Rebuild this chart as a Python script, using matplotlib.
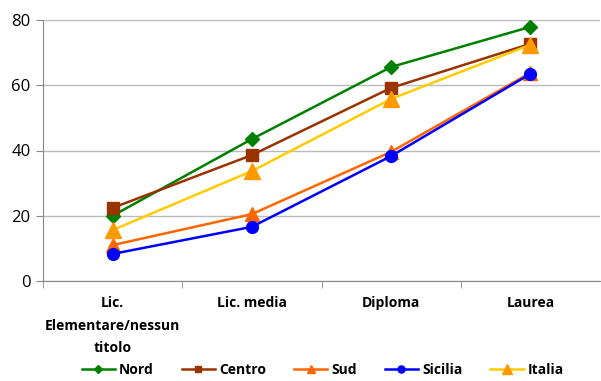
import matplotlib
matplotlib.use('Agg')
import matplotlib.pyplot as plt
import numpy as np

categorie = ['Lic.\nElementare/nessun\ntitolo', 'Lic. media', 'Diploma', 'Laurea']
nord = [20.0, 43.5, 65.6, 77.9]
centro = [22.4, 38.6, 59.2, 72.7]
sud = [11.0, 20.5, 39.6, 63.8]
sicilia = [8.3, 16.6, 38.3, 63.5]
italia = [15.6, 33.7, 55.8, 72.4]

plt.rcParams['font.family'] = ['Open Sans', 'DejaVu Sans']

fig = plt.figure(figsize=(6.01, 3.81), dpi=100)
ax = fig.add_axes([43 / 601, 100 / 381, 557 / 601, 261 / 381])
x = np.arange(len(categorie))

serie = [
    ('Nord', nord, '#008000', '#008000', 'D', 7),
    ('Centro', centro, '#993300', '#993300', 's', 8),
    ('Sud', sud, '#FF6600', '#FF6600', '^', 10),
    ('Sicilia', sicilia, '#0000FF', '#0000FF', 'o', 8.5),
    ('Italia', italia, '#FFCC00', '#FF9900', '^', 11),
]
for nome, val, col, mcol, mk, ms in serie:
    ax.plot(x, val, color=col, lw=1.8, marker=mk, ms=ms,
            mfc=mcol, mec=mcol, label=nome, zorder=3)

ax.set_xlim(-0.5, 3.5)
ax.set_ylim(0, 80)
ax.set_yticks([0, 20, 40, 60, 80])
ax.yaxis.grid(True, color='#bbbbbb', lw=1)
ax.set_axisbelow(True)
ax.set_xticks(x)
ax.set_xticklabels(categorie, fontweight='bold', fontsize=10, linespacing=1.75)
ax.set_xticks([-0.5, 0.5, 1.5, 2.5], minor=True)
ax.tick_params(axis='x', which='major', length=0, pad=11)
ax.tick_params(axis='x', which='minor', length=5, color='#888888')
ax.tick_params(axis='y', length=5, color='#888888', labelsize=12, pad=4)
for s in ['top', 'right']:
    ax.spines[s].set_visible(False)
for s in ['left', 'bottom']:
    ax.spines[s].set_color('#888888')

leg = fig.legend(loc='lower center', bbox_to_anchor=(0.537, -0.022), ncol=5,
                 frameon=False, prop={'weight': 'bold', 'size': 10},
                 handlelength=2.4, columnspacing=2.0, handletextpad=0.3,
                 markerscale=0.6)

fig.savefig('out.png', dpi=100)
